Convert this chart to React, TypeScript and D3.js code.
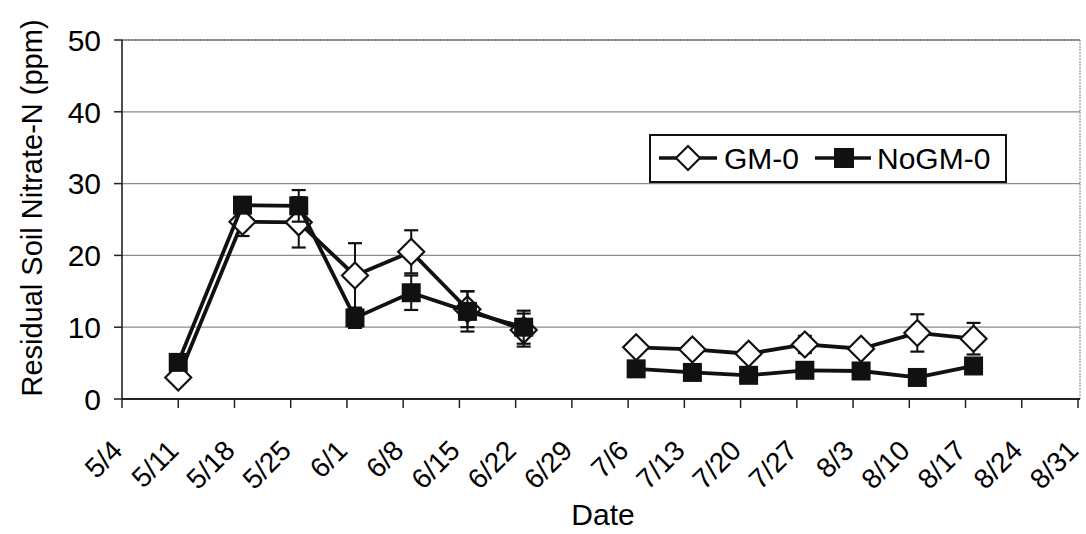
import React, { useEffect, useRef } from "react";
import * as d3 from "d3";

// sampling dates and readings (ppm)
const sampleDates = ["5/11", "5/19", "5/26", "6/2", "6/9", "6/16", "6/23", "7/7", "7/14", "7/21", "7/28", "8/4", "8/11", "8/18"];
const gmValues = [3.0, 24.7, 24.6, 17.2, 20.5, 12.5, 9.6, 7.2, 6.9, 6.3, 7.6, 7.0, 9.2, 8.4];
const gmErrors = [0.4, 2.0, 3.5, 4.5, 3.0, 2.5, 2.3, 0.5, 0.9, 0.8, 1.2, 0.8, 2.6, 2.2];
const noGmValues = [5.1, 27.0, 26.9, 11.3, 14.8, 12.2, 10.0, 4.2, 3.7, 3.3, 4.0, 3.9, 3.0, 4.6];
const noGmErrors = [0.4, 0.5, 2.2, 1.4, 2.4, 2.8, 2.3, 0.4, 0.4, 0.4, 0.4, 0.4, 0.4, 1.0];
const xTickLabels = ["5/4", "5/11", "5/18", "5/25", "6/1", "6/8", "6/15", "6/22", "6/29", "7/6", "7/13", "7/20", "7/27", "8/3", "8/10", "8/17", "8/24", "8/31"];
const yTicks = [0, 10, 20, 30, 40, 50];
const seriesNames = ["GM-0", "NoGM-0"];

const FONT = "'Liberation Sans', Arial, Helvetica, sans-serif";

const toDate = (s: string) => {
  const [m, d] = s.split("/").map(Number);
  return new Date(2000, m - 1, d);
};

const App = () => {
  const svgRef = useRef<SVGSVGElement>(null);

  useEffect(() => {
    const svg = d3.select(svgRef.current);
    svg.selectAll("*").remove();

    const left = 122, right = 1078, top = 40, bottom = 399;

    const x = d3
      .scaleTime()
      .domain([toDate(xTickLabels[0]), toDate(xTickLabels[xTickLabels.length - 1])])
      .range([left, right]);
    const y = d3.scaleLinear().domain([0, 50]).range([bottom, top]);

    // gridlines
    svg
      .append("g")
      .selectAll("line")
      .data(yTicks.filter((t) => t > 0))
      .enter()
      .append("line")
      .attr("x1", left)
      .attr("x2", right + 2)
      .attr("y1", (d) => y(d))
      .attr("y2", (d) => y(d))
      .attr("stroke", "#8a8a8a")
      .attr("stroke-width", 1.3);

    // frame (dotted, top and right)
    svg
      .append("line")
      .attr("x1", right + 2)
      .attr("x2", right + 2)
      .attr("y1", top)
      .attr("y2", bottom)
      .attr("stroke", "#999")
      .attr("stroke-width", 1.2)
      .attr("stroke-dasharray", "2,1");
    svg
      .append("line")
      .attr("x1", left)
      .attr("x2", right + 2)
      .attr("y1", top)
      .attr("y2", top)
      .attr("stroke", "#777")
      .attr("stroke-width", 1.4)
      .attr("stroke-dasharray", "2,1");

    // y axis
    const yAxis = svg.append("g");
    yAxis
      .append("line")
      .attr("x1", left)
      .attr("x2", left)
      .attr("y1", top)
      .attr("y2", bottom)
      .attr("stroke", "#222")
      .attr("stroke-width", 1.6);
    yAxis
      .selectAll(".ytick")
      .data(yTicks)
      .enter()
      .append("line")
      .attr("x1", left - 8)
      .attr("x2", left)
      .attr("y1", (d) => y(d))
      .attr("y2", (d) => y(d))
      .attr("stroke", "#222")
      .attr("stroke-width", 1.5);
    yAxis
      .selectAll(".ylab")
      .data(yTicks)
      .enter()
      .append("text")
      .attr("x", left - 21)
      .attr("y", (d) => y(d))
      .attr("dy", "0.36em")
      .attr("text-anchor", "end")
      .style("font-family", FONT)
      .style("font-size", "30px")
      .text((d) => d);

    svg
      .append("text")
      .attr("transform", `translate(42,208) rotate(-90)`)
      .attr("text-anchor", "middle")
      .style("font-family", FONT)
      .style("font-size", "29px")
      .text("Residual Soil Nitrate-N (ppm)");

    // x axis
    const xAxis = svg.append("g");
    xAxis
      .append("line")
      .attr("x1", left)
      .attr("x2", right + 2)
      .attr("y1", bottom)
      .attr("y2", bottom)
      .attr("stroke", "#222")
      .attr("stroke-width", 1.8);
    xAxis
      .selectAll(".xtick")
      .data(xTickLabels)
      .enter()
      .append("line")
      .attr("x1", (d) => x(toDate(d)))
      .attr("x2", (d) => x(toDate(d)))
      .attr("y1", bottom)
      .attr("y2", bottom + 9)
      .attr("stroke", "#222")
      .attr("stroke-width", 1.5);
    xAxis
      .selectAll(".xlab")
      .data(xTickLabels)
      .enter()
      .append("text")
      .attr("transform", (d) => `translate(${x(toDate(d)) - 5},${bottom + 46}) rotate(-45)`)
      .attr("text-anchor", "end")
      .attr("dy", "0.36em")
      .style("font-family", FONT)
      .style("font-size", "28px")
      .text((d) => d);

    svg
      .append("text")
      .attr("x", 603)
      .attr("y", 525)
      .attr("text-anchor", "middle")
      .style("font-family", FONT)
      .style("font-size", "30px")
      .text("Date");

    // series
    const makeSeries = (values: number[], errors: number[]) =>
      sampleDates.map((s, i) => ({ date: toDate(s), value: values[i], err: errors[i] }));
    const series = [makeSeries(gmValues, gmErrors), makeSeries(noGmValues, noGmErrors)];

    // split at sampling gaps longer than ~10 days
    const segments = (pts: { date: Date; value: number }[]) => {
      const out: (typeof pts)[] = [[]];
      pts.forEach((p, i) => {
        if (i > 0 && (+p.date - +pts[i - 1].date) / 864e5 > 10) out.push([]);
        out[out.length - 1].push(p);
      });
      return out;
    };

    const line = d3
      .line<{ date: Date; value: number }>()
      .x((d) => x(d.date))
      .y((d) => y(d.value));

    const diamond = (cx: number, cy: number, r: number) =>
      `M${cx},${cy - r}L${cx + r},${cy}L${cx},${cy + r}L${cx - r},${cy}Z`;

    series.forEach((pts, si) => {
      const g = svg.append("g");
      // error bars
      pts.forEach((p) => {
        const cx = x(p.date);
        const y1 = y(p.value + p.err);
        const y0 = y(p.value - p.err);
        g.append("line")
          .attr("x1", cx).attr("x2", cx).attr("y1", y1).attr("y2", y0)
          .attr("stroke", "#111").attr("stroke-width", 2);
        [y1, y0].forEach((yy) =>
          g.append("line")
            .attr("x1", cx - 7).attr("x2", cx + 7).attr("y1", yy).attr("y2", yy)
            .attr("stroke", "#111").attr("stroke-width", 2.2)
        );
      });
      segments(pts).forEach((seg) =>
        g.append("path")
          .attr("d", line(seg))
          .attr("fill", "none")
          .attr("stroke", "#111")
          .attr("stroke-width", 3.8)
          .attr("stroke-linejoin", "round")
      );
      pts.forEach((p) => {
        const cx = x(p.date), cy = y(p.value);
        if (si === 0) {
          g.append("path")
            .attr("d", diamond(cx, cy, 13))
            .attr("fill", "#fff")
            .attr("stroke", "#111")
            .attr("stroke-width", 2.2);
        } else {
          g.append("rect")
            .attr("x", cx - 9.5).attr("y", cy - 9.5)
            .attr("width", 19).attr("height", 19)
            .attr("fill", "#111");
        }
      });
    });

    // legend
    const lg = svg.append("g");
    lg.append("rect")
      .attr("x", 650).attr("y", 135).attr("width", 356).attr("height", 47)
      .attr("fill", "#fff").attr("stroke", "#111").attr("stroke-width", 2);
    const ly = 158;
    lg.append("line").attr("x1", 659).attr("x2", 717).attr("y1", ly).attr("y2", ly)
      .attr("stroke", "#111").attr("stroke-width", 3.5);
    lg.append("path").attr("d", diamond(688, ly, 12))
      .attr("fill", "#fff").attr("stroke", "#111").attr("stroke-width", 2.2);
    lg.append("line").attr("x1", 815).attr("x2", 871).attr("y1", ly).attr("y2", ly)
      .attr("stroke", "#111").attr("stroke-width", 3.5);
    lg.append("rect").attr("x", 834).attr("y", ly - 10).attr("width", 20).attr("height", 20)
      .attr("fill", "#111");
    [724, 877].forEach((lx, i) =>
      lg.append("text")
        .attr("x", lx).attr("y", ly).attr("dy", "0.36em")
        .style("font-family", FONT).style("font-size", "30px")
        .text(seriesNames[i])
    );
  }, []);

  return (
    <div style={{ position: "absolute", left: 0, top: 0 }}>
      <svg ref={svgRef} width={1086} height={534} style={{ display: "block", background: "#fff" }} />
    </div>
  );
};

export default App;
